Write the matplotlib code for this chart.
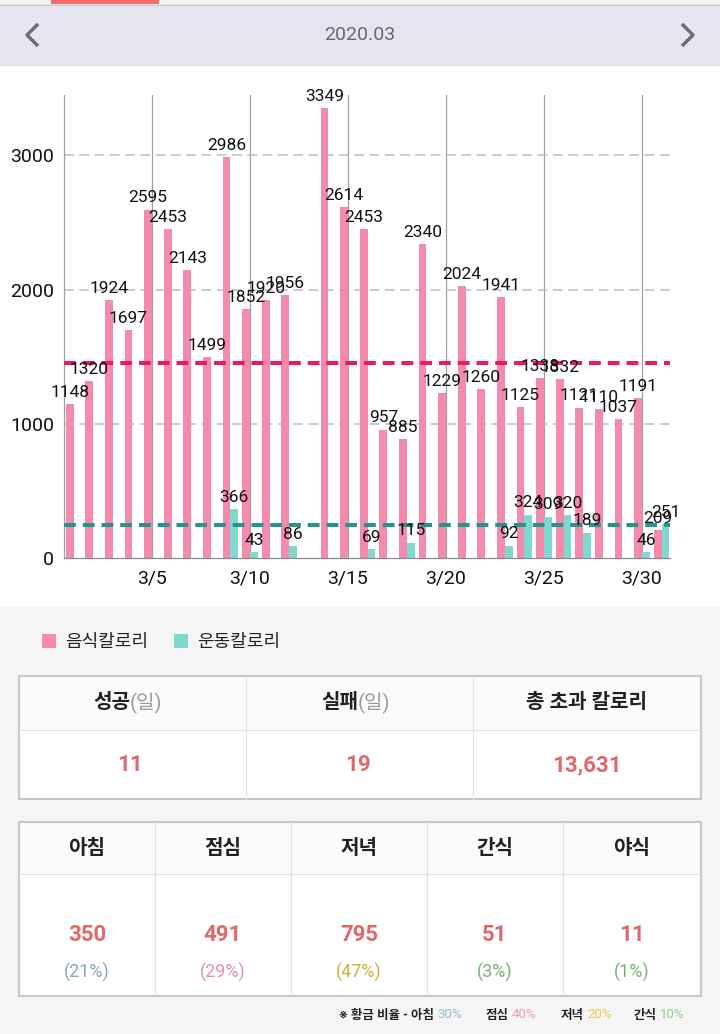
import matplotlib
matplotlib.use('Agg')
import matplotlib.pyplot as plt
from matplotlib.patches import Rectangle
from matplotlib.lines import Line2D
import numpy as np

# data (March 2020)
days = np.arange(1, 32)
food_kcal = [1148, 1320, 1924, 1697, 2595, 2453, 2143, 1499, 2986, 1852,
             1920, 1956, 0, 3349, 2614, 2453, 957, 885, 2340, 1229,
             2024, 1260, 1941, 1125, 1338, 1332, 1121, 1110, 1037, 1191, 209]
exercise_kcal = [0, 0, 0, 0, 0, 0, 0, 0, 366, 43,
                 0, 86, 0, 0, 0, 69, 0, 115, 0, 0,
                 0, 0, 92, 324, 309, 320, 189, 0, 0, 46, 251]
food_avg = 1455
exercise_avg = 248
tick_days = [5, 10, 15, 20, 25, 30]
tick_labels = ['3/5', '3/10', '3/15', '3/20', '3/25', '3/30']
y_ticks = [0, 1000, 2000, 3000]

month_title = '2020.03'
legend_labels = ['음식칼로리', '운동칼로리']
summary_titles = ['성공', '실패', '총 초과 칼로리']
summary_units = ['(일)', '(일)', '']
summary_values = ['11', '19', '13,631']
meal_names = ['아침', '점심', '저녁', '간식', '야식']
meal_values = [350, 491, 795, 51, 11]
meal_shares = ['(21%)', '(29%)', '(47%)', '(3%)', '(1%)']
golden_names = ['※ 황금 비율 - 아침', '점심', '저녁', '간식']
golden_shares = ['30%', '40%', '20%', '10%']

PINK = '#f58bab'
TEAL = '#80d9d1'
SALMON = '#e06868'
share_colors = ['#85a9c0', '#dd93a5', '#d4ad3c', '#74b374', '#74b374']
golden_colors = ['#8fbfd2', '#ec9cae', '#eec34a', '#8ccc8c']

plt.rcParams['font.family'] = ['Roboto', 'Noto Sans CJK KR', 'DejaVu Sans']
plt.rcParams['lines.scale_dashes'] = False

W, H = 720, 1034
fig = plt.figure(figsize=(W / 100, H / 100), dpi=100)
fig.patch.set_facecolor('white')


def rect(x0, y0, x1, y1, **kw):
    fig.patches.append(Rectangle((x0 / W, 1 - y1 / H), (x1 - x0) / W, (y1 - y0) / H,
                                 transform=fig.transFigure, **kw))


def line(xs, ys, **kw):
    fig.lines.append(Line2D([x / W for x in xs], [1 - y / H for y in ys],
                            transform=fig.transFigure, **kw))


def text(x, y, s, **kw):
    kw.setdefault('ha', 'center')
    kw.setdefault('va', 'center')
    fig.text(x / W, 1 - y / H, s, **kw)


# header band
rect(0, 0, 720, 4, color='#f2f2f2', lw=0)
rect(51, 0, 159, 4, color='#f26a6a', lw=0)
rect(0, 4, 720, 66, color='#e6e4ee', lw=0)
line([0, 720], [4.5, 4.5], color='#c8c8cc', lw=0.8)
text(360, 35, month_title, fontsize=14, color='#6a6a6a')
line([38, 27, 38], [24, 35, 46], color='#6b6b73', lw=2.4, solid_capstyle='butt')
line([682, 693, 682], [24, 35, 46], color='#6b6b73', lw=2.4, solid_capstyle='butt')

# grey lower part
rect(0, 607, 720, 1034, color='#f5f5f5', lw=0)

# chart
ax = fig.add_axes([64 / W, 1 - 558 / H, 606 / W, 463 / H])
ax.set_facecolor('none')
ax.set_xlim(0.51, 31.43)
ax.set_ylim(0, 3449)

for d in tick_days:
    ax.axvline(d, color='#a0a0a0', lw=0.9, zorder=1)
for v in y_ticks[1:]:
    ax.axhline(v, color='#bdbdbd', lw=1.1, dashes=(7, 4), zorder=1)

food_bars = ax.bar(days - 0.2, food_kcal, width=0.4, color=PINK, zorder=2)
ex_bars = ax.bar(days + 0.2, exercise_kcal, width=0.4, color=TEAL, zorder=2)

ax.axhline(food_avg, color='#e8196b', lw=2.9, dashes=(8.5, 5), zorder=3)
ax.axhline(exercise_avg, color='#23958f', lw=2.9, dashes=(8.5, 5), zorder=3)

for d, v in zip(days, food_kcal):
    if v > 0:
        ax.annotate(str(v), (d - 0.2, v), xytext=(0, 3), textcoords='offset points',
                    ha='center', va='bottom', fontsize=12.5, color='#111111', zorder=5)
for d, v in zip(days, exercise_kcal):
    if v > 0:
        ax.annotate(str(v), (d + 0.2, v), xytext=(0, 3), textcoords='offset points',
                    ha='center', va='bottom', fontsize=12.5, color='#111111', zorder=5)

ax.set_xticks(tick_days)
ax.set_xticklabels(tick_labels)
ax.set_yticks(y_ticks)
ax.tick_params(length=0, labelsize=14, colors='#111111')
ax.tick_params(axis='x', pad=8)
ax.tick_params(axis='y', pad=7)
for s in ['top', 'right']:
    ax.spines[s].set_visible(False)
ax.spines['left'].set_color('#a0a0a0')
ax.spines['left'].set_linewidth(0.9)
ax.spines['bottom'].set_color('#8a8a8a')
ax.spines['bottom'].set_linewidth(0.9)

# legend
fig.legend([food_bars, ex_bars], legend_labels, loc='center left',
           bbox_to_anchor=(42 / W, 1 - 642 / H), frameon=False, ncol=2,
           fontsize=13, handlelength=0.8, handleheight=0.8, handletextpad=0.5,
           columnspacing=1.4, borderpad=0, borderaxespad=0, labelcolor='#222222')

# summary table
rect(19, 676, 701, 799, facecolor='white', edgecolor='none')
rect(19, 676, 701, 730, facecolor='#fcfafc', edgecolor='none')
line([19, 701], [730, 730], color='#e0e0e0', lw=0.8)
for x in [246, 473]:
    line([x, x], [676, 799], color='#e2e2e2', lw=0.8)
rect(19, 676, 701, 799, facecolor='none', edgecolor='#c8c8c8', lw=1.5)
centers1 = [130, 358, 587]
for cx, t, u, v in zip(centers1, summary_titles, summary_units, summary_values):
    if u:
        text(cx, 703, t, ha='right', fontsize=14.5, fontweight='bold', color='#222222')
        text(cx, 703, u, ha='left', fontsize=14.5, color='#9a9a9a')
    else:
        text(cx, 703, t, fontsize=14.5, fontweight='bold', color='#222222')
    text(cx, 765, v, fontsize=16, fontweight='bold', color=SALMON)

# meal table
rect(19, 822, 701, 996, facecolor='white', edgecolor='none')
rect(19, 822, 701, 874, facecolor='#fcfafc', edgecolor='none')
line([19, 701], [874, 874], color='#e0e0e0', lw=0.8)
for x in [155, 291, 427, 563]:
    line([x, x], [822, 996], color='#e2e2e2', lw=0.8)
rect(19, 822, 701, 996, facecolor='none', edgecolor='#c8c8c8', lw=1.5)
centers2 = [87, 223, 359, 495, 632]
for cx, n, v, s, c in zip(centers2, meal_names, meal_values, meal_shares, share_colors):
    text(cx, 848, n, fontsize=14.5, fontweight='bold', color='#222222')
    text(cx, 935, str(v), fontsize=16, fontweight='bold', color=SALMON)
    text(cx, 972, s, fontsize=13, color=c)

# golden ratio footnote: name right-aligned just before its share
share_x = [437, 512, 587, 660]
for sx, n, s, c in zip(share_x, golden_names, golden_shares, golden_colors):
    text(sx - 3, 1015, n, ha='right', fontsize=9, fontweight='bold', color='#222222')
    text(sx, 1015, s, ha='left', fontsize=9.5, color=c)

fig.savefig('out.png', dpi=100)
